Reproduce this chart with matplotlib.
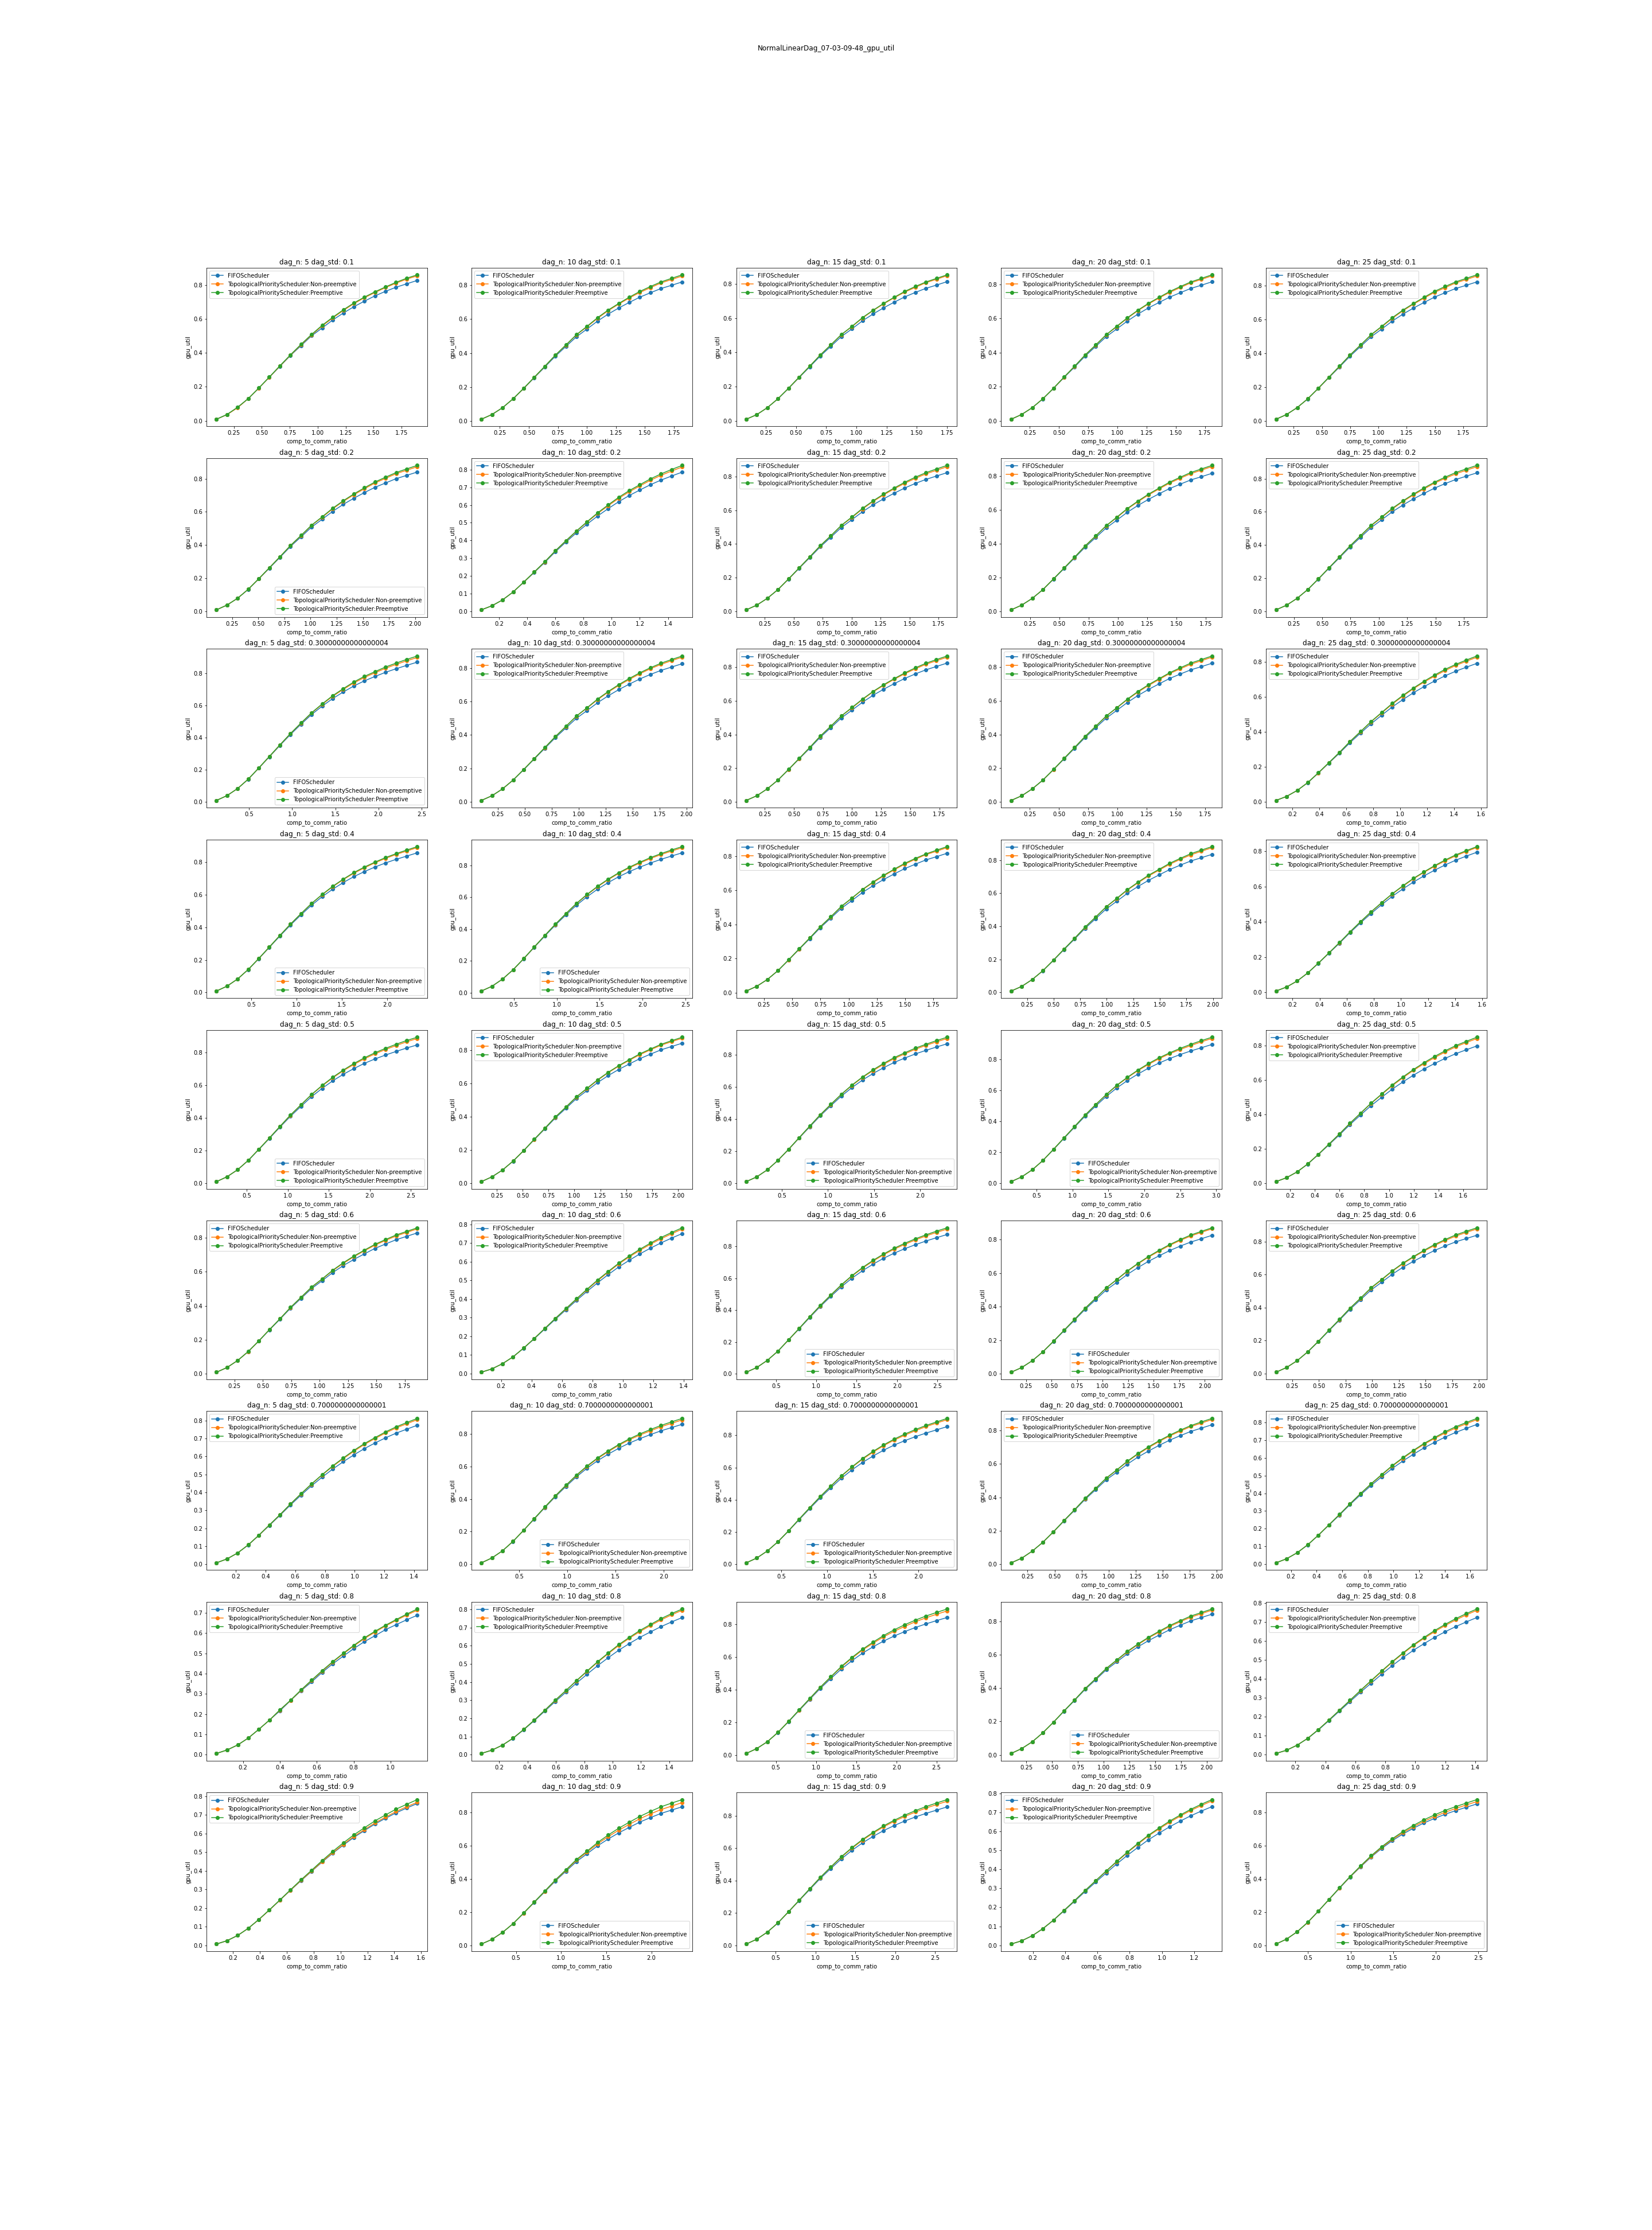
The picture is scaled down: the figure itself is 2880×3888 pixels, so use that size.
import matplotlib
matplotlib.use("Agg")
import matplotlib.pyplot as plt

dag_ns = [5, 10, 15, 20, 25]
dag_stds = ["0.1", "0.2", "0.30000000000000004", "0.4", "0.5", "0.6",
            "0.7000000000000001", "0.8", "0.9"]
series_names = ["FIFOScheduler",
                "TopologicalPriorityScheduler:Non-preemptive",
                "TopologicalPriorityScheduler:Preemptive"]

# ---- dag_std 0.1 ----
x_std01 = [
    [0.095, 0.189, 0.284, 0.378, 0.473, 0.567, 0.662, 0.756, 0.851, 0.945, 1.040, 1.134, 1.229, 1.323, 1.418, 1.512, 1.607, 1.701, 1.796, 1.890],
    [0.091, 0.182, 0.273, 0.364, 0.455, 0.546, 0.637, 0.728, 0.819, 0.910, 1.001, 1.092, 1.183, 1.274, 1.365, 1.456, 1.547, 1.638, 1.729, 1.820],
    [0.088, 0.175, 0.263, 0.350, 0.438, 0.525, 0.613, 0.700, 0.788, 0.875, 0.963, 1.050, 1.138, 1.225, 1.313, 1.400, 1.488, 1.575, 1.663, 1.750],
    [0.091, 0.181, 0.272, 0.362, 0.453, 0.543, 0.634, 0.724, 0.815, 0.905, 0.996, 1.086, 1.177, 1.267, 1.358, 1.448, 1.539, 1.629, 1.720, 1.810],
    [0.094, 0.187, 0.281, 0.374, 0.468, 0.561, 0.655, 0.748, 0.842, 0.935, 1.029, 1.122, 1.216, 1.309, 1.403, 1.496, 1.590, 1.683, 1.777, 1.870],
]
fifo_std01 = [
    [0.009, 0.037, 0.078, 0.130, 0.192, 0.256, 0.320, 0.384, 0.442, 0.500, 0.546, 0.593, 0.634, 0.671, 0.704, 0.735, 0.762, 0.786, 0.806, 0.826],
    [0.009, 0.037, 0.077, 0.129, 0.190, 0.254, 0.317, 0.381, 0.439, 0.496, 0.542, 0.589, 0.630, 0.666, 0.699, 0.730, 0.756, 0.781, 0.800, 0.820],
    [0.009, 0.036, 0.077, 0.128, 0.189, 0.252, 0.315, 0.378, 0.435, 0.492, 0.537, 0.584, 0.624, 0.660, 0.693, 0.724, 0.750, 0.774, 0.793, 0.813],
    [0.009, 0.037, 0.077, 0.128, 0.189, 0.253, 0.315, 0.379, 0.436, 0.493, 0.539, 0.585, 0.626, 0.662, 0.694, 0.725, 0.751, 0.776, 0.795, 0.815],
    [0.009, 0.037, 0.078, 0.129, 0.191, 0.255, 0.318, 0.382, 0.440, 0.497, 0.543, 0.590, 0.631, 0.667, 0.700, 0.732, 0.758, 0.783, 0.802, 0.822],
]
np_std01 = [
    [0.009, 0.036, 0.077, 0.130, 0.192, 0.256, 0.322, 0.386, 0.447, 0.505, 0.558, 0.605, 0.649, 0.689, 0.724, 0.755, 0.784, 0.810, 0.834, 0.853],
    [0.009, 0.037, 0.077, 0.130, 0.191, 0.256, 0.321, 0.387, 0.447, 0.507, 0.555, 0.605, 0.650, 0.689, 0.725, 0.758, 0.786, 0.814, 0.834, 0.855],
    [0.009, 0.036, 0.077, 0.129, 0.190, 0.254, 0.319, 0.384, 0.443, 0.503, 0.550, 0.600, 0.644, 0.683, 0.719, 0.752, 0.780, 0.807, 0.827, 0.848],
    [0.009, 0.037, 0.077, 0.129, 0.190, 0.255, 0.319, 0.385, 0.444, 0.504, 0.552, 0.601, 0.646, 0.685, 0.720, 0.753, 0.781, 0.809, 0.829, 0.850],
    [0.009, 0.037, 0.078, 0.130, 0.192, 0.257, 0.322, 0.388, 0.448, 0.508, 0.556, 0.606, 0.651, 0.690, 0.726, 0.760, 0.788, 0.816, 0.836, 0.857],
]
pre_std01 = [
    [0.009, 0.037, 0.080, 0.130, 0.193, 0.257, 0.324, 0.388, 0.450, 0.508, 0.562, 0.609, 0.653, 0.693, 0.728, 0.759, 0.788, 0.815, 0.839, 0.859],
    [0.009, 0.037, 0.077, 0.130, 0.192, 0.257, 0.322, 0.388, 0.448, 0.509, 0.558, 0.609, 0.654, 0.693, 0.730, 0.764, 0.793, 0.820, 0.841, 0.862],
    [0.009, 0.036, 0.077, 0.129, 0.191, 0.255, 0.319, 0.384, 0.444, 0.504, 0.552, 0.603, 0.646, 0.686, 0.722, 0.756, 0.785, 0.811, 0.832, 0.853],
    [0.009, 0.037, 0.077, 0.129, 0.191, 0.256, 0.320, 0.386, 0.445, 0.505, 0.555, 0.604, 0.649, 0.689, 0.724, 0.758, 0.787, 0.814, 0.835, 0.856],
    [0.009, 0.037, 0.078, 0.130, 0.193, 0.258, 0.323, 0.389, 0.449, 0.510, 0.559, 0.610, 0.655, 0.694, 0.731, 0.766, 0.795, 0.822, 0.843, 0.864],
]

# ---- dag_std 0.2 ----
x_std02 = [
    [0.101, 0.202, 0.303, 0.404, 0.505, 0.606, 0.707, 0.808, 0.909, 1.010, 1.111, 1.212, 1.313, 1.414, 1.515, 1.616, 1.717, 1.818, 1.919, 2.020],
    [0.075, 0.150, 0.225, 0.300, 0.375, 0.450, 0.525, 0.600, 0.675, 0.750, 0.825, 0.900, 0.975, 1.050, 1.125, 1.200, 1.275, 1.350, 1.425, 1.500],
    [0.091, 0.182, 0.274, 0.365, 0.456, 0.547, 0.638, 0.730, 0.821, 0.912, 1.003, 1.094, 1.186, 1.277, 1.368, 1.459, 1.550, 1.642, 1.733, 1.824],
    [0.090, 0.180, 0.270, 0.360, 0.450, 0.540, 0.630, 0.720, 0.810, 0.900, 0.990, 1.080, 1.170, 1.260, 1.350, 1.440, 1.530, 1.620, 1.710, 1.800],
    [0.093, 0.186, 0.280, 0.373, 0.466, 0.559, 0.652, 0.746, 0.839, 0.932, 1.025, 1.118, 1.212, 1.305, 1.398, 1.491, 1.584, 1.678, 1.771, 1.864],
]
fifo_std02 = [
    [0.009, 0.038, 0.079, 0.132, 0.195, 0.260, 0.325, 0.391, 0.449, 0.508, 0.555, 0.603, 0.645, 0.682, 0.716, 0.748, 0.774, 0.800, 0.820, 0.840],
    [0.008, 0.031, 0.064, 0.108, 0.163, 0.219, 0.276, 0.336, 0.391, 0.443, 0.492, 0.538, 0.580, 0.619, 0.654, 0.685, 0.715, 0.741, 0.764, 0.786],
    [0.009, 0.037, 0.078, 0.129, 0.191, 0.255, 0.318, 0.383, 0.440, 0.498, 0.544, 0.591, 0.632, 0.668, 0.701, 0.732, 0.759, 0.783, 0.803, 0.823],
    [0.009, 0.037, 0.077, 0.128, 0.190, 0.253, 0.316, 0.380, 0.437, 0.494, 0.540, 0.587, 0.627, 0.663, 0.696, 0.727, 0.753, 0.778, 0.797, 0.817],
    [0.009, 0.037, 0.079, 0.131, 0.194, 0.259, 0.323, 0.388, 0.447, 0.505, 0.552, 0.600, 0.641, 0.678, 0.711, 0.743, 0.770, 0.795, 0.815, 0.835],
]
np_std02 = [
    [0.009, 0.038, 0.079, 0.133, 0.196, 0.262, 0.329, 0.396, 0.456, 0.518, 0.567, 0.618, 0.663, 0.703, 0.739, 0.774, 0.802, 0.830, 0.851, 0.872],
    [0.008, 0.031, 0.064, 0.109, 0.164, 0.221, 0.279, 0.341, 0.397, 0.452, 0.503, 0.552, 0.596, 0.638, 0.675, 0.708, 0.740, 0.768, 0.792, 0.815],
    [0.009, 0.037, 0.078, 0.130, 0.192, 0.257, 0.322, 0.389, 0.448, 0.509, 0.557, 0.607, 0.652, 0.691, 0.727, 0.760, 0.789, 0.816, 0.837, 0.858],
    [0.009, 0.037, 0.077, 0.129, 0.192, 0.256, 0.320, 0.386, 0.446, 0.506, 0.555, 0.606, 0.649, 0.689, 0.725, 0.759, 0.788, 0.815, 0.836, 0.857],
    [0.009, 0.037, 0.079, 0.132, 0.195, 0.262, 0.327, 0.394, 0.455, 0.516, 0.566, 0.617, 0.662, 0.702, 0.738, 0.773, 0.802, 0.829, 0.851, 0.872],
]
pre_std02 = [
    [0.009, 0.038, 0.079, 0.133, 0.197, 0.263, 0.329, 0.397, 0.458, 0.520, 0.570, 0.622, 0.667, 0.708, 0.745, 0.780, 0.809, 0.837, 0.859, 0.880],
    [0.008, 0.031, 0.064, 0.109, 0.165, 0.222, 0.280, 0.342, 0.399, 0.454, 0.506, 0.556, 0.601, 0.644, 0.682, 0.715, 0.748, 0.776, 0.801, 0.824],
    [0.009, 0.037, 0.078, 0.130, 0.193, 0.258, 0.323, 0.390, 0.449, 0.511, 0.560, 0.611, 0.656, 0.696, 0.732, 0.766, 0.796, 0.823, 0.845, 0.866],
    [0.009, 0.037, 0.077, 0.129, 0.192, 0.256, 0.321, 0.388, 0.447, 0.508, 0.558, 0.609, 0.653, 0.694, 0.730, 0.765, 0.794, 0.822, 0.843, 0.864],
    [0.009, 0.037, 0.079, 0.132, 0.196, 0.262, 0.328, 0.395, 0.457, 0.519, 0.569, 0.621, 0.666, 0.707, 0.744, 0.779, 0.809, 0.837, 0.859, 0.880],
]

# ---- dag_std 0.3 ----
x_std03 = [
    [0.123, 0.245, 0.368, 0.490, 0.613, 0.735, 0.858, 0.980, 1.103, 1.225, 1.348, 1.470, 1.593, 1.715, 1.838, 1.960, 2.083, 2.205, 2.328, 2.450],
    [0.098, 0.196, 0.294, 0.392, 0.490, 0.588, 0.686, 0.784, 0.882, 0.980, 1.078, 1.176, 1.274, 1.372, 1.470, 1.568, 1.666, 1.764, 1.862, 1.960],
    [0.091, 0.182, 0.272, 0.363, 0.454, 0.545, 0.636, 0.726, 0.817, 0.908, 0.999, 1.090, 1.180, 1.271, 1.362, 1.453, 1.544, 1.634, 1.725, 1.816],
    [0.090, 0.181, 0.271, 0.361, 0.452, 0.542, 0.632, 0.722, 0.813, 0.903, 0.993, 1.084, 1.174, 1.264, 1.355, 1.445, 1.535, 1.625, 1.716, 1.806],
    [0.079, 0.157, 0.236, 0.314, 0.393, 0.471, 0.550, 0.628, 0.707, 0.785, 0.864, 0.942, 1.021, 1.099, 1.178, 1.256, 1.335, 1.413, 1.492, 1.570],
]
fifo_std03 = [
    [0.010, 0.040, 0.084, 0.141, 0.210, 0.280, 0.351, 0.419, 0.483, 0.543, 0.595, 0.642, 0.683, 0.720, 0.752, 0.779, 0.805, 0.827, 0.848, 0.868],
    [0.009, 0.037, 0.078, 0.130, 0.192, 0.256, 0.320, 0.384, 0.442, 0.500, 0.546, 0.593, 0.634, 0.671, 0.704, 0.735, 0.762, 0.786, 0.806, 0.826],
    [0.009, 0.037, 0.078, 0.129, 0.191, 0.255, 0.318, 0.383, 0.440, 0.498, 0.544, 0.591, 0.632, 0.668, 0.701, 0.732, 0.759, 0.783, 0.803, 0.823],
    [0.009, 0.037, 0.078, 0.129, 0.191, 0.255, 0.318, 0.382, 0.440, 0.497, 0.543, 0.590, 0.631, 0.667, 0.700, 0.732, 0.758, 0.783, 0.802, 0.822],
    [0.008, 0.031, 0.065, 0.109, 0.164, 0.221, 0.278, 0.338, 0.393, 0.446, 0.495, 0.542, 0.584, 0.623, 0.658, 0.690, 0.720, 0.746, 0.769, 0.791],
]
np_std03 = [
    [0.010, 0.040, 0.084, 0.142, 0.211, 0.282, 0.354, 0.424, 0.489, 0.552, 0.606, 0.656, 0.699, 0.739, 0.773, 0.802, 0.830, 0.854, 0.876, 0.897],
    [0.009, 0.037, 0.078, 0.131, 0.194, 0.259, 0.324, 0.390, 0.451, 0.512, 0.561, 0.611, 0.656, 0.696, 0.732, 0.766, 0.796, 0.822, 0.844, 0.865],
    [0.009, 0.037, 0.078, 0.130, 0.192, 0.257, 0.322, 0.389, 0.448, 0.509, 0.557, 0.607, 0.652, 0.691, 0.727, 0.760, 0.789, 0.816, 0.837, 0.858],
    [0.009, 0.037, 0.078, 0.130, 0.192, 0.258, 0.322, 0.388, 0.448, 0.508, 0.557, 0.607, 0.651, 0.690, 0.726, 0.761, 0.789, 0.816, 0.837, 0.858],
    [0.008, 0.031, 0.065, 0.110, 0.165, 0.223, 0.282, 0.344, 0.401, 0.457, 0.508, 0.558, 0.604, 0.646, 0.684, 0.718, 0.750, 0.779, 0.803, 0.826],
]
pre_std03 = [
    [0.010, 0.040, 0.084, 0.142, 0.212, 0.283, 0.355, 0.425, 0.491, 0.554, 0.609, 0.660, 0.704, 0.745, 0.780, 0.809, 0.838, 0.862, 0.885, 0.906],
    [0.009, 0.037, 0.078, 0.131, 0.194, 0.259, 0.325, 0.391, 0.452, 0.514, 0.563, 0.615, 0.660, 0.701, 0.738, 0.772, 0.802, 0.829, 0.851, 0.872],
    [0.009, 0.037, 0.078, 0.130, 0.193, 0.258, 0.323, 0.390, 0.449, 0.510, 0.560, 0.610, 0.655, 0.695, 0.731, 0.765, 0.795, 0.822, 0.844, 0.865],
    [0.009, 0.037, 0.078, 0.130, 0.193, 0.258, 0.323, 0.389, 0.449, 0.510, 0.559, 0.610, 0.655, 0.695, 0.731, 0.766, 0.795, 0.823, 0.844, 0.865],
    [0.008, 0.031, 0.065, 0.110, 0.166, 0.224, 0.283, 0.345, 0.402, 0.459, 0.511, 0.562, 0.608, 0.650, 0.689, 0.724, 0.757, 0.785, 0.810, 0.833],
]

# ---- dag_std 0.4 ----
x_std04 = [
    [0.117, 0.233, 0.350, 0.466, 0.583, 0.699, 0.816, 0.932, 1.049, 1.165, 1.282, 1.398, 1.515, 1.631, 1.748, 1.864, 1.981, 2.097, 2.214, 2.330],
    [0.123, 0.246, 0.369, 0.492, 0.615, 0.738, 0.861, 0.984, 1.107, 1.230, 1.353, 1.476, 1.599, 1.722, 1.845, 1.968, 2.091, 2.214, 2.337, 2.460],
    [0.094, 0.187, 0.281, 0.374, 0.468, 0.561, 0.655, 0.748, 0.842, 0.935, 1.029, 1.122, 1.216, 1.309, 1.403, 1.496, 1.590, 1.683, 1.777, 1.870],
    [0.100, 0.199, 0.299, 0.398, 0.498, 0.597, 0.697, 0.796, 0.896, 0.995, 1.095, 1.194, 1.294, 1.393, 1.493, 1.592, 1.692, 1.791, 1.891, 1.990],
    [0.078, 0.156, 0.234, 0.312, 0.390, 0.468, 0.546, 0.624, 0.702, 0.780, 0.858, 0.936, 1.014, 1.092, 1.170, 1.248, 1.326, 1.404, 1.482, 1.560],
]
fifo_std04 = [
    [0.009, 0.039, 0.083, 0.140, 0.207, 0.276, 0.346, 0.413, 0.476, 0.535, 0.587, 0.633, 0.674, 0.710, 0.741, 0.769, 0.794, 0.816, 0.836, 0.856],
    [0.010, 0.040, 0.085, 0.143, 0.212, 0.284, 0.355, 0.424, 0.488, 0.549, 0.602, 0.650, 0.691, 0.728, 0.760, 0.788, 0.814, 0.837, 0.858, 0.878],
    [0.009, 0.037, 0.077, 0.128, 0.190, 0.253, 0.316, 0.380, 0.437, 0.494, 0.540, 0.587, 0.627, 0.663, 0.696, 0.727, 0.753, 0.778, 0.797, 0.817],
    [0.009, 0.037, 0.079, 0.131, 0.194, 0.259, 0.323, 0.388, 0.447, 0.505, 0.552, 0.600, 0.641, 0.678, 0.711, 0.743, 0.770, 0.795, 0.815, 0.835],
    [0.008, 0.031, 0.065, 0.110, 0.165, 0.222, 0.279, 0.339, 0.395, 0.448, 0.498, 0.545, 0.587, 0.626, 0.661, 0.693, 0.723, 0.750, 0.773, 0.795],
]
np_std04 = [
    [0.009, 0.039, 0.083, 0.141, 0.208, 0.278, 0.350, 0.418, 0.483, 0.545, 0.599, 0.648, 0.692, 0.731, 0.764, 0.795, 0.822, 0.846, 0.867, 0.888],
    [0.010, 0.040, 0.085, 0.144, 0.213, 0.286, 0.359, 0.429, 0.495, 0.559, 0.614, 0.665, 0.709, 0.749, 0.783, 0.814, 0.842, 0.867, 0.889, 0.910],
    [0.009, 0.037, 0.077, 0.129, 0.191, 0.255, 0.320, 0.385, 0.444, 0.504, 0.553, 0.603, 0.645, 0.684, 0.720, 0.753, 0.782, 0.809, 0.829, 0.850],
    [0.009, 0.037, 0.079, 0.132, 0.196, 0.262, 0.327, 0.394, 0.456, 0.517, 0.567, 0.619, 0.663, 0.704, 0.740, 0.775, 0.805, 0.832, 0.854, 0.875],
    [0.008, 0.031, 0.065, 0.111, 0.166, 0.224, 0.282, 0.343, 0.401, 0.456, 0.508, 0.558, 0.602, 0.644, 0.681, 0.715, 0.746, 0.775, 0.799, 0.822],
]
pre_std04 = [
    [0.009, 0.039, 0.083, 0.141, 0.209, 0.279, 0.350, 0.419, 0.484, 0.546, 0.601, 0.651, 0.695, 0.735, 0.769, 0.799, 0.827, 0.851, 0.873, 0.894],
    [0.010, 0.040, 0.085, 0.144, 0.214, 0.287, 0.359, 0.430, 0.497, 0.561, 0.617, 0.668, 0.713, 0.753, 0.788, 0.819, 0.848, 0.873, 0.896, 0.917],
    [0.009, 0.037, 0.077, 0.129, 0.192, 0.256, 0.320, 0.386, 0.445, 0.506, 0.555, 0.605, 0.649, 0.688, 0.724, 0.758, 0.787, 0.813, 0.835, 0.856],
    [0.009, 0.037, 0.079, 0.132, 0.196, 0.262, 0.328, 0.396, 0.457, 0.519, 0.570, 0.622, 0.667, 0.709, 0.745, 0.781, 0.811, 0.839, 0.861, 0.882],
    [0.008, 0.031, 0.065, 0.111, 0.166, 0.224, 0.283, 0.344, 0.402, 0.458, 0.510, 0.560, 0.605, 0.647, 0.684, 0.719, 0.751, 0.780, 0.804, 0.827],
]

# ---- dag_std 0.5 ----
x_std05 = [
    [0.129, 0.258, 0.387, 0.516, 0.645, 0.774, 0.903, 1.032, 1.161, 1.290, 1.419, 1.548, 1.677, 1.806, 1.935, 2.064, 2.193, 2.322, 2.451, 2.580],
    [0.102, 0.204, 0.306, 0.408, 0.510, 0.612, 0.714, 0.816, 0.918, 1.020, 1.122, 1.224, 1.326, 1.428, 1.530, 1.632, 1.734, 1.836, 1.938, 2.040],
    [0.115, 0.229, 0.344, 0.458, 0.573, 0.687, 0.802, 0.916, 1.031, 1.145, 1.260, 1.374, 1.489, 1.603, 1.718, 1.832, 1.947, 2.061, 2.176, 2.290],
    [0.147, 0.294, 0.441, 0.588, 0.735, 0.882, 1.029, 1.176, 1.323, 1.470, 1.617, 1.764, 1.911, 2.058, 2.205, 2.352, 2.499, 2.646, 2.793, 2.940],
    [0.086, 0.171, 0.257, 0.342, 0.428, 0.513, 0.599, 0.684, 0.770, 0.855, 0.941, 1.026, 1.112, 1.197, 1.283, 1.368, 1.454, 1.539, 1.625, 1.710],
]
fifo_std05 = [
    [0.009, 0.039, 0.082, 0.138, 0.205, 0.273, 0.342, 0.409, 0.470, 0.529, 0.580, 0.626, 0.666, 0.701, 0.733, 0.760, 0.784, 0.806, 0.827, 0.846],
    [0.009, 0.038, 0.079, 0.132, 0.195, 0.261, 0.326, 0.392, 0.450, 0.509, 0.557, 0.605, 0.647, 0.684, 0.717, 0.749, 0.776, 0.802, 0.822, 0.842],
    [0.010, 0.040, 0.084, 0.142, 0.210, 0.281, 0.351, 0.420, 0.483, 0.543, 0.596, 0.643, 0.684, 0.720, 0.753, 0.780, 0.806, 0.828, 0.849, 0.869],
    [0.010, 0.041, 0.087, 0.146, 0.217, 0.290, 0.362, 0.434, 0.499, 0.561, 0.616, 0.664, 0.706, 0.744, 0.777, 0.806, 0.832, 0.855, 0.876, 0.897],
    [0.008, 0.031, 0.065, 0.110, 0.165, 0.222, 0.280, 0.340, 0.396, 0.450, 0.499, 0.546, 0.588, 0.627, 0.663, 0.695, 0.725, 0.752, 0.775, 0.797],
]
np_std05 = [
    [0.009, 0.039, 0.082, 0.139, 0.207, 0.276, 0.346, 0.415, 0.479, 0.541, 0.595, 0.644, 0.688, 0.726, 0.761, 0.791, 0.818, 0.842, 0.865, 0.885],
    [0.009, 0.038, 0.079, 0.133, 0.196, 0.263, 0.329, 0.397, 0.457, 0.518, 0.568, 0.619, 0.664, 0.704, 0.739, 0.773, 0.802, 0.830, 0.851, 0.872],
    [0.010, 0.040, 0.084, 0.143, 0.211, 0.283, 0.355, 0.425, 0.490, 0.553, 0.609, 0.659, 0.702, 0.741, 0.777, 0.806, 0.835, 0.859, 0.881, 0.902],
    [0.010, 0.041, 0.087, 0.147, 0.219, 0.293, 0.366, 0.440, 0.508, 0.572, 0.631, 0.682, 0.728, 0.768, 0.805, 0.837, 0.865, 0.890, 0.914, 0.936],
    [0.008, 0.031, 0.065, 0.111, 0.167, 0.225, 0.285, 0.347, 0.405, 0.463, 0.515, 0.566, 0.612, 0.655, 0.694, 0.729, 0.762, 0.792, 0.817, 0.840],
]
pre_std05 = [
    [0.009, 0.039, 0.082, 0.139, 0.207, 0.276, 0.347, 0.417, 0.480, 0.543, 0.598, 0.648, 0.692, 0.732, 0.767, 0.798, 0.825, 0.850, 0.873, 0.893],
    [0.009, 0.038, 0.079, 0.133, 0.196, 0.264, 0.330, 0.398, 0.458, 0.520, 0.571, 0.622, 0.667, 0.707, 0.743, 0.778, 0.807, 0.835, 0.857, 0.878],
    [0.010, 0.040, 0.084, 0.143, 0.212, 0.284, 0.356, 0.427, 0.492, 0.555, 0.612, 0.662, 0.707, 0.747, 0.783, 0.813, 0.842, 0.866, 0.889, 0.910],
    [0.010, 0.041, 0.087, 0.147, 0.219, 0.293, 0.367, 0.441, 0.509, 0.574, 0.634, 0.685, 0.732, 0.774, 0.811, 0.843, 0.872, 0.898, 0.922, 0.944],
    [0.008, 0.031, 0.065, 0.111, 0.167, 0.226, 0.286, 0.348, 0.407, 0.465, 0.518, 0.570, 0.617, 0.660, 0.700, 0.736, 0.769, 0.799, 0.824, 0.848],
]

# ---- dag_std 0.6 ----
x_std06 = [
    [0.093, 0.186, 0.279, 0.372, 0.465, 0.558, 0.651, 0.744, 0.837, 0.930, 1.023, 1.116, 1.209, 1.302, 1.395, 1.488, 1.581, 1.674, 1.767, 1.860],
    [0.070, 0.139, 0.209, 0.278, 0.348, 0.417, 0.487, 0.556, 0.626, 0.695, 0.765, 0.834, 0.904, 0.973, 1.043, 1.112, 1.182, 1.251, 1.321, 1.390],
    [0.131, 0.262, 0.393, 0.524, 0.655, 0.786, 0.917, 1.048, 1.179, 1.310, 1.441, 1.572, 1.703, 1.834, 1.965, 2.096, 2.227, 2.358, 2.489, 2.620],
    [0.104, 0.207, 0.311, 0.414, 0.518, 0.621, 0.725, 0.828, 0.932, 1.035, 1.139, 1.242, 1.346, 1.449, 1.553, 1.656, 1.760, 1.863, 1.967, 2.070],
    [0.099, 0.198, 0.297, 0.396, 0.495, 0.594, 0.693, 0.792, 0.891, 0.990, 1.089, 1.188, 1.287, 1.386, 1.485, 1.584, 1.683, 1.782, 1.881, 1.980],
]
fifo_std06 = [
    [0.009, 0.037, 0.078, 0.130, 0.192, 0.257, 0.320, 0.385, 0.443, 0.501, 0.547, 0.595, 0.636, 0.672, 0.705, 0.737, 0.763, 0.788, 0.808, 0.828],
    [0.007, 0.025, 0.053, 0.089, 0.136, 0.186, 0.239, 0.291, 0.342, 0.392, 0.441, 0.487, 0.531, 0.572, 0.608, 0.642, 0.673, 0.701, 0.727, 0.751],
    [0.010, 0.040, 0.085, 0.142, 0.212, 0.282, 0.353, 0.422, 0.486, 0.546, 0.600, 0.647, 0.688, 0.725, 0.757, 0.785, 0.810, 0.833, 0.854, 0.874],
    [0.009, 0.037, 0.078, 0.130, 0.192, 0.256, 0.320, 0.384, 0.442, 0.500, 0.546, 0.593, 0.634, 0.671, 0.704, 0.735, 0.762, 0.786, 0.806, 0.826],
    [0.009, 0.038, 0.079, 0.132, 0.194, 0.260, 0.324, 0.390, 0.448, 0.507, 0.554, 0.602, 0.644, 0.680, 0.714, 0.746, 0.773, 0.798, 0.818, 0.838],
]
np_std06 = [
    [0.009, 0.037, 0.078, 0.130, 0.193, 0.259, 0.323, 0.389, 0.448, 0.508, 0.556, 0.606, 0.649, 0.688, 0.723, 0.756, 0.784, 0.810, 0.831, 0.852],
    [0.007, 0.025, 0.053, 0.089, 0.137, 0.188, 0.242, 0.295, 0.347, 0.399, 0.450, 0.498, 0.544, 0.588, 0.626, 0.661, 0.694, 0.723, 0.750, 0.775],
    [0.010, 0.040, 0.085, 0.143, 0.213, 0.284, 0.357, 0.427, 0.493, 0.556, 0.613, 0.663, 0.707, 0.747, 0.782, 0.812, 0.840, 0.865, 0.887, 0.908],
    [0.009, 0.037, 0.078, 0.131, 0.194, 0.259, 0.324, 0.390, 0.451, 0.512, 0.561, 0.611, 0.656, 0.696, 0.732, 0.766, 0.796, 0.822, 0.844, 0.865],
    [0.009, 0.038, 0.079, 0.133, 0.196, 0.263, 0.328, 0.396, 0.456, 0.518, 0.568, 0.620, 0.665, 0.705, 0.742, 0.776, 0.806, 0.833, 0.855, 0.876],
]
pre_std06 = [
    [0.009, 0.037, 0.078, 0.131, 0.193, 0.259, 0.323, 0.390, 0.450, 0.510, 0.558, 0.609, 0.653, 0.692, 0.727, 0.761, 0.789, 0.816, 0.837, 0.858],
    [0.007, 0.025, 0.053, 0.090, 0.137, 0.188, 0.242, 0.296, 0.349, 0.401, 0.453, 0.502, 0.548, 0.592, 0.631, 0.667, 0.700, 0.730, 0.757, 0.782],
    [0.010, 0.040, 0.085, 0.143, 0.214, 0.285, 0.358, 0.429, 0.495, 0.559, 0.616, 0.667, 0.712, 0.752, 0.788, 0.819, 0.847, 0.872, 0.895, 0.916],
    [0.009, 0.037, 0.078, 0.131, 0.194, 0.259, 0.325, 0.391, 0.452, 0.513, 0.563, 0.614, 0.659, 0.700, 0.737, 0.771, 0.801, 0.828, 0.850, 0.871],
    [0.009, 0.038, 0.079, 0.133, 0.196, 0.263, 0.329, 0.397, 0.458, 0.521, 0.571, 0.623, 0.669, 0.709, 0.747, 0.782, 0.812, 0.840, 0.862, 0.883],
]

# ---- dag_std 0.7 ----
x_std07 = [
    [0.071, 0.142, 0.213, 0.284, 0.355, 0.426, 0.497, 0.568, 0.639, 0.710, 0.781, 0.852, 0.923, 0.994, 1.065, 1.136, 1.207, 1.278, 1.349, 1.420],
    [0.110, 0.219, 0.329, 0.438, 0.548, 0.657, 0.767, 0.876, 0.986, 1.095, 1.205, 1.314, 1.424, 1.533, 1.643, 1.752, 1.862, 1.971, 2.081, 2.190],
    [0.116, 0.231, 0.347, 0.462, 0.578, 0.693, 0.809, 0.924, 1.040, 1.155, 1.271, 1.386, 1.502, 1.617, 1.733, 1.848, 1.964, 2.079, 2.195, 2.310],
    [0.098, 0.196, 0.293, 0.391, 0.489, 0.587, 0.685, 0.782, 0.880, 0.978, 1.076, 1.174, 1.271, 1.369, 1.467, 1.565, 1.663, 1.760, 1.858, 1.956],
    [0.083, 0.165, 0.248, 0.330, 0.413, 0.495, 0.578, 0.660, 0.743, 0.825, 0.908, 0.990, 1.073, 1.155, 1.238, 1.320, 1.403, 1.485, 1.568, 1.650],
]
fifo_std07 = [
    [0.008, 0.030, 0.063, 0.107, 0.160, 0.216, 0.272, 0.330, 0.385, 0.437, 0.485, 0.530, 0.571, 0.609, 0.644, 0.675, 0.704, 0.730, 0.752, 0.774],
    [0.009, 0.039, 0.083, 0.140, 0.208, 0.277, 0.347, 0.414, 0.477, 0.536, 0.589, 0.635, 0.675, 0.711, 0.743, 0.770, 0.795, 0.818, 0.838, 0.858],
    [0.009, 0.039, 0.083, 0.139, 0.206, 0.276, 0.345, 0.412, 0.474, 0.533, 0.585, 0.631, 0.671, 0.707, 0.739, 0.766, 0.791, 0.813, 0.833, 0.853],
    [0.009, 0.037, 0.079, 0.131, 0.193, 0.259, 0.323, 0.388, 0.446, 0.505, 0.551, 0.599, 0.641, 0.677, 0.711, 0.742, 0.769, 0.794, 0.814, 0.834],
    [0.008, 0.031, 0.065, 0.109, 0.163, 0.220, 0.277, 0.336, 0.392, 0.444, 0.493, 0.540, 0.582, 0.620, 0.656, 0.687, 0.717, 0.743, 0.766, 0.788],
]
np_std07 = [
    [0.008, 0.030, 0.063, 0.108, 0.161, 0.218, 0.275, 0.335, 0.392, 0.446, 0.497, 0.545, 0.588, 0.629, 0.667, 0.700, 0.731, 0.759, 0.782, 0.805],
    [0.009, 0.039, 0.083, 0.141, 0.209, 0.279, 0.350, 0.418, 0.483, 0.544, 0.599, 0.648, 0.690, 0.729, 0.763, 0.792, 0.818, 0.843, 0.864, 0.885],
    [0.009, 0.039, 0.083, 0.140, 0.208, 0.279, 0.350, 0.419, 0.483, 0.546, 0.601, 0.651, 0.695, 0.735, 0.770, 0.800, 0.828, 0.853, 0.875, 0.896],
    [0.009, 0.037, 0.079, 0.132, 0.194, 0.261, 0.326, 0.393, 0.453, 0.514, 0.563, 0.614, 0.658, 0.697, 0.734, 0.767, 0.796, 0.823, 0.844, 0.865],
    [0.008, 0.031, 0.065, 0.110, 0.164, 0.222, 0.280, 0.340, 0.398, 0.452, 0.503, 0.553, 0.597, 0.638, 0.676, 0.709, 0.740, 0.768, 0.792, 0.815],
]
pre_std07 = [
    [0.008, 0.030, 0.063, 0.108, 0.162, 0.219, 0.276, 0.336, 0.393, 0.448, 0.499, 0.548, 0.592, 0.634, 0.672, 0.705, 0.737, 0.765, 0.789, 0.812],
    [0.009, 0.039, 0.083, 0.141, 0.209, 0.280, 0.351, 0.420, 0.485, 0.547, 0.603, 0.652, 0.695, 0.734, 0.769, 0.799, 0.826, 0.851, 0.873, 0.894],
    [0.009, 0.039, 0.083, 0.140, 0.208, 0.280, 0.351, 0.420, 0.485, 0.548, 0.604, 0.655, 0.700, 0.740, 0.776, 0.807, 0.835, 0.860, 0.882, 0.904],
    [0.009, 0.037, 0.079, 0.132, 0.195, 0.262, 0.327, 0.394, 0.454, 0.516, 0.565, 0.617, 0.662, 0.702, 0.739, 0.772, 0.802, 0.829, 0.851, 0.872],
    [0.008, 0.031, 0.065, 0.110, 0.164, 0.222, 0.281, 0.341, 0.399, 0.454, 0.506, 0.556, 0.601, 0.642, 0.681, 0.714, 0.747, 0.775, 0.799, 0.822],
]

# ---- dag_std 0.8 ----
x_std08 = [
    [0.057, 0.114, 0.172, 0.229, 0.286, 0.343, 0.400, 0.458, 0.515, 0.572, 0.629, 0.686, 0.744, 0.801, 0.858, 0.915, 0.972, 1.030, 1.087, 1.144],
    [0.075, 0.149, 0.224, 0.298, 0.373, 0.447, 0.522, 0.596, 0.671, 0.745, 0.820, 0.894, 0.969, 1.043, 1.118, 1.192, 1.267, 1.341, 1.416, 1.490],
    [0.132, 0.263, 0.395, 0.526, 0.658, 0.789, 0.921, 1.052, 1.184, 1.315, 1.447, 1.578, 1.710, 1.841, 1.973, 2.104, 2.236, 2.367, 2.499, 2.630],
    [0.103, 0.205, 0.308, 0.410, 0.513, 0.615, 0.718, 0.820, 0.923, 1.025, 1.128, 1.230, 1.333, 1.435, 1.538, 1.640, 1.743, 1.845, 1.948, 2.050],
    [0.071, 0.141, 0.212, 0.282, 0.353, 0.423, 0.494, 0.564, 0.635, 0.705, 0.776, 0.846, 0.917, 0.987, 1.058, 1.128, 1.199, 1.269, 1.340, 1.410],
]
fifo_std08 = [
    [0.006, 0.023, 0.048, 0.082, 0.125, 0.170, 0.216, 0.267, 0.316, 0.359, 0.406, 0.448, 0.487, 0.524, 0.558, 0.587, 0.617, 0.642, 0.666, 0.688],
    [0.007, 0.025, 0.053, 0.090, 0.137, 0.187, 0.240, 0.293, 0.344, 0.394, 0.443, 0.490, 0.534, 0.575, 0.612, 0.646, 0.676, 0.705, 0.731, 0.755],
    [0.009, 0.039, 0.081, 0.137, 0.203, 0.271, 0.339, 0.406, 0.467, 0.525, 0.576, 0.622, 0.661, 0.696, 0.727, 0.754, 0.779, 0.801, 0.821, 0.840],
    [0.009, 0.038, 0.079, 0.132, 0.195, 0.261, 0.326, 0.392, 0.450, 0.509, 0.557, 0.605, 0.647, 0.684, 0.717, 0.749, 0.776, 0.802, 0.822, 0.842],
    [0.007, 0.024, 0.051, 0.086, 0.131, 0.180, 0.231, 0.281, 0.331, 0.378, 0.426, 0.471, 0.513, 0.552, 0.587, 0.620, 0.650, 0.677, 0.702, 0.725],
]
np_std08 = [
    [0.006, 0.023, 0.048, 0.082, 0.125, 0.170, 0.220, 0.268, 0.318, 0.366, 0.412, 0.456, 0.498, 0.537, 0.573, 0.605, 0.635, 0.663, 0.689, 0.713],
    [0.007, 0.025, 0.053, 0.091, 0.139, 0.190, 0.244, 0.299, 0.353, 0.406, 0.458, 0.509, 0.556, 0.601, 0.641, 0.678, 0.711, 0.742, 0.770, 0.795],
    [0.009, 0.039, 0.081, 0.138, 0.205, 0.274, 0.343, 0.412, 0.476, 0.537, 0.591, 0.641, 0.683, 0.722, 0.756, 0.786, 0.814, 0.838, 0.860, 0.880],
    [0.009, 0.038, 0.079, 0.132, 0.196, 0.263, 0.329, 0.396, 0.455, 0.516, 0.566, 0.616, 0.660, 0.700, 0.735, 0.768, 0.797, 0.824, 0.845, 0.866],
    [0.007, 0.024, 0.051, 0.087, 0.133, 0.183, 0.235, 0.287, 0.339, 0.389, 0.440, 0.489, 0.534, 0.577, 0.615, 0.650, 0.683, 0.712, 0.739, 0.763],
]
pre_std08 = [
    [0.006, 0.023, 0.048, 0.082, 0.125, 0.170, 0.221, 0.269, 0.320, 0.368, 0.415, 0.459, 0.501, 0.540, 0.577, 0.609, 0.639, 0.667, 0.694, 0.719],
    [0.007, 0.025, 0.053, 0.091, 0.139, 0.190, 0.245, 0.301, 0.354, 0.408, 0.461, 0.512, 0.560, 0.606, 0.646, 0.684, 0.717, 0.749, 0.777, 0.802],
    [0.009, 0.039, 0.081, 0.138, 0.205, 0.275, 0.345, 0.414, 0.478, 0.541, 0.596, 0.646, 0.690, 0.730, 0.765, 0.796, 0.824, 0.849, 0.871, 0.892],
    [0.009, 0.038, 0.079, 0.133, 0.196, 0.263, 0.329, 0.397, 0.457, 0.518, 0.569, 0.620, 0.664, 0.704, 0.740, 0.774, 0.803, 0.831, 0.852, 0.873],
    [0.007, 0.024, 0.051, 0.087, 0.133, 0.183, 0.236, 0.288, 0.341, 0.392, 0.443, 0.492, 0.538, 0.581, 0.620, 0.656, 0.689, 0.719, 0.746, 0.770],
]

# ---- dag_std 0.9 ----
x_std09 = [
    [0.079, 0.157, 0.236, 0.314, 0.393, 0.471, 0.550, 0.628, 0.707, 0.785, 0.864, 0.942, 1.021, 1.099, 1.178, 1.256, 1.335, 1.413, 1.492, 1.570],
    [0.117, 0.234, 0.351, 0.468, 0.585, 0.702, 0.819, 0.936, 1.053, 1.170, 1.287, 1.404, 1.521, 1.638, 1.755, 1.872, 1.989, 2.106, 2.223, 2.340],
    [0.133, 0.265, 0.398, 0.530, 0.663, 0.795, 0.928, 1.060, 1.193, 1.325, 1.458, 1.590, 1.723, 1.855, 1.988, 2.120, 2.253, 2.385, 2.518, 2.650],
    [0.066, 0.131, 0.197, 0.262, 0.328, 0.393, 0.459, 0.524, 0.590, 0.655, 0.721, 0.786, 0.852, 0.917, 0.983, 1.048, 1.114, 1.179, 1.245, 1.310],
    [0.124, 0.248, 0.372, 0.496, 0.620, 0.744, 0.868, 0.992, 1.116, 1.240, 1.364, 1.488, 1.612, 1.736, 1.860, 1.984, 2.108, 2.232, 2.356, 2.480],
]
fifo_std09 = [
    [0.007, 0.025, 0.053, 0.091, 0.138, 0.189, 0.242, 0.295, 0.347, 0.397, 0.447, 0.494, 0.538, 0.579, 0.616, 0.651, 0.682, 0.711, 0.737, 0.761],
    [0.009, 0.037, 0.079, 0.131, 0.194, 0.259, 0.323, 0.388, 0.447, 0.505, 0.552, 0.600, 0.641, 0.678, 0.711, 0.743, 0.770, 0.795, 0.815, 0.835],
    [0.009, 0.039, 0.083, 0.139, 0.207, 0.276, 0.345, 0.413, 0.475, 0.534, 0.587, 0.633, 0.673, 0.709, 0.740, 0.768, 0.793, 0.815, 0.835, 0.855],
    [0.007, 0.024, 0.051, 0.087, 0.132, 0.181, 0.232, 0.283, 0.333, 0.381, 0.429, 0.474, 0.516, 0.556, 0.591, 0.624, 0.654, 0.682, 0.707, 0.730],
    [0.009, 0.039, 0.083, 0.139, 0.206, 0.275, 0.344, 0.411, 0.473, 0.532, 0.584, 0.630, 0.670, 0.705, 0.737, 0.764, 0.789, 0.811, 0.831, 0.851],
]
np_std09 = [
    [0.007, 0.025, 0.053, 0.091, 0.138, 0.189, 0.243, 0.296, 0.349, 0.399, 0.450, 0.497, 0.542, 0.584, 0.621, 0.657, 0.688, 0.718, 0.744, 0.768],
    [0.009, 0.037, 0.079, 0.132, 0.195, 0.261, 0.326, 0.392, 0.453, 0.513, 0.562, 0.612, 0.655, 0.694, 0.729, 0.763, 0.792, 0.818, 0.839, 0.860],
    [0.009, 0.039, 0.083, 0.140, 0.208, 0.278, 0.349, 0.419, 0.483, 0.545, 0.600, 0.649, 0.693, 0.732, 0.766, 0.796, 0.823, 0.848, 0.869, 0.890],
    [0.007, 0.024, 0.051, 0.088, 0.133, 0.183, 0.235, 0.288, 0.340, 0.390, 0.440, 0.488, 0.533, 0.576, 0.613, 0.648, 0.680, 0.710, 0.736, 0.760],
    [0.009, 0.039, 0.083, 0.139, 0.207, 0.276, 0.346, 0.413, 0.476, 0.536, 0.589, 0.637, 0.678, 0.714, 0.747, 0.775, 0.801, 0.824, 0.845, 0.865],
]
pre_std09 = [
    [0.007, 0.025, 0.053, 0.091, 0.139, 0.190, 0.244, 0.298, 0.352, 0.403, 0.455, 0.504, 0.550, 0.593, 0.631, 0.668, 0.700, 0.731, 0.757, 0.782],
    [0.009, 0.037, 0.079, 0.132, 0.196, 0.262, 0.328, 0.395, 0.456, 0.518, 0.568, 0.620, 0.665, 0.706, 0.742, 0.777, 0.807, 0.835, 0.857, 0.878],
    [0.009, 0.039, 0.083, 0.140, 0.209, 0.279, 0.350, 0.420, 0.485, 0.548, 0.604, 0.654, 0.698, 0.738, 0.773, 0.804, 0.832, 0.857, 0.879, 0.900],
    [0.007, 0.024, 0.051, 0.088, 0.133, 0.184, 0.236, 0.289, 0.341, 0.392, 0.443, 0.491, 0.537, 0.580, 0.618, 0.654, 0.686, 0.716, 0.743, 0.767],
    [0.009, 0.039, 0.083, 0.140, 0.207, 0.277, 0.347, 0.415, 0.479, 0.540, 0.594, 0.642, 0.685, 0.722, 0.756, 0.785, 0.812, 0.835, 0.856, 0.877],
]

x_rows = [x_std01, x_std02, x_std03, x_std04, x_std05, x_std06, x_std07, x_std08, x_std09]
fifo_rows = [fifo_std01, fifo_std02, fifo_std03, fifo_std04, fifo_std05, fifo_std06, fifo_std07, fifo_std08, fifo_std09]
np_rows = [np_std01, np_std02, np_std03, np_std04, np_std05, np_std06, np_std07, np_std08, np_std09]
pre_rows = [pre_std01, pre_std02, pre_std03, pre_std04, pre_std05, pre_std06, pre_std07, pre_std08, pre_std09]

# where the legend sits in the original picture (u = upper left, l = lower right)
legend_pos = ["uuuuu", "luuuu", "luuuu", "lluuu", "lullu",
              "uullu", "ulluu", "uullu", "ullul"]

fig, axes = plt.subplots(9, 5, figsize=(40, 54))
fig.subplots_adjust(bottom=0.125)
fig.suptitle("NormalLinearDag_07-03-09-48_gpu_util")

for i, std in enumerate(dag_stds):
    for j, n in enumerate(dag_ns):
        ax = axes[i, j]
        x = x_rows[i][j]
        ax.plot(x, fifo_rows[i][j], marker="o", label=series_names[0])
        ax.plot(x, np_rows[i][j], marker="o", label=series_names[1])
        ax.plot(x, pre_rows[i][j], marker="o", label=series_names[2])
        ax.set_title(f"dag_n: {n} dag_std: {std}")
        ax.set_xlabel("comp_to_comm_ratio")
        ax.set_ylabel("gpu_util")
        loc = "upper left" if legend_pos[i][j] == "u" else "lower right"
        ax.legend(loc=loc)

fig.savefig("out.png", dpi=72)
